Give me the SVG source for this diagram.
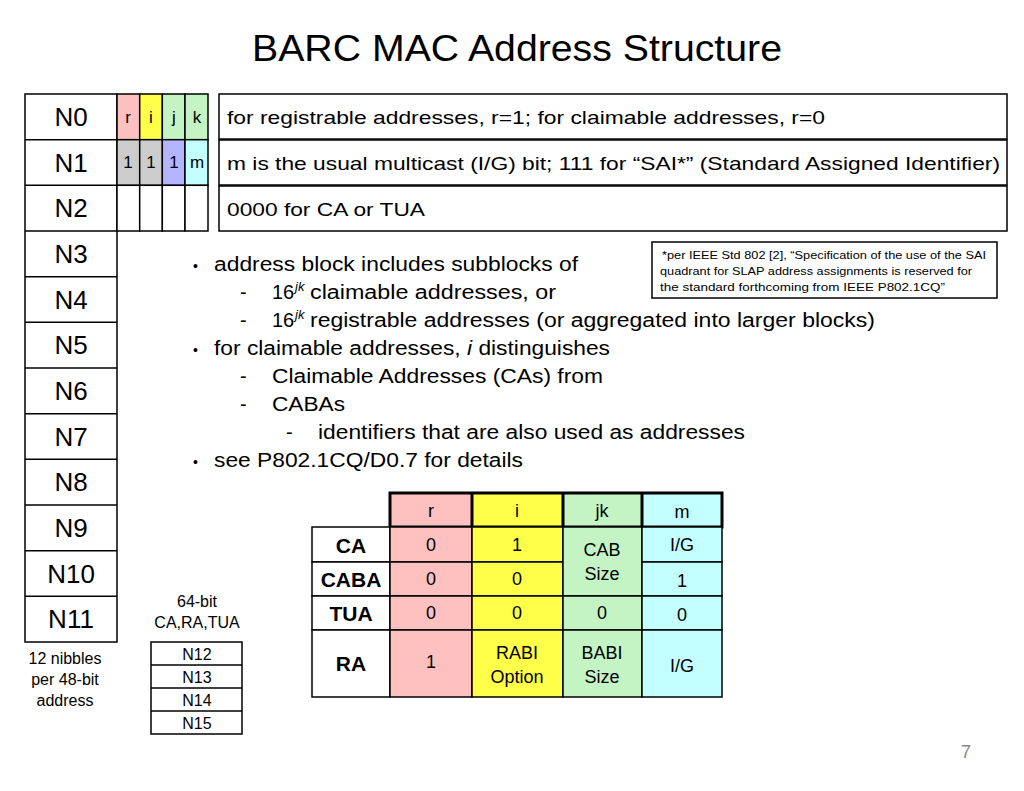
<svg xmlns="http://www.w3.org/2000/svg" width="1024" height="791" viewBox="0 0 1024 791">
<style>
text{font-family:"Liberation Sans",Arial,sans-serif;fill:#000}
.b{fill:#fff;stroke:#000;stroke-width:1.5}
.n{font-size:26px;text-anchor:middle}
.c{font-size:17px;text-anchor:middle}
.t{font-size:20px}
.h{font-size:21px;font-weight:bold;text-anchor:middle}
.s{stroke:#000;stroke-width:1.5}
.pk{fill:#FFC0C0}.ye{fill:#FFFF4A}.gr{fill:#C4F4C4}.cy{fill:#C4FFFF}.gy{fill:#CCCCCC}.lv{fill:#B4B4FF}
</style>
<rect width="1024" height="791" fill="#fff"/>
<text x="252" y="61" font-size="36" textLength="530" lengthAdjust="spacingAndGlyphs">BARC MAC Address Structure</text>
<g id="nibbles">
<rect class="b" x="25" y="94" width="92" height="548"/>
<g class="s">
<line x1="25" y1="139.7" x2="117" y2="139.7"/><line x1="25" y1="185.3" x2="117" y2="185.3"/><line x1="25" y1="231" x2="117" y2="231"/><line x1="25" y1="276.7" x2="117" y2="276.7"/><line x1="25" y1="322.3" x2="117" y2="322.3"/><line x1="25" y1="368" x2="117" y2="368"/><line x1="25" y1="413.7" x2="117" y2="413.7"/><line x1="25" y1="459.3" x2="117" y2="459.3"/><line x1="25" y1="505" x2="117" y2="505"/><line x1="25" y1="550.7" x2="117" y2="550.7"/><line x1="25" y1="596.3" x2="117" y2="596.3"/>
</g>
<text class="n" x="71" y="126">N0</text><text class="n" x="71" y="172">N1</text><text class="n" x="71" y="217">N2</text><text class="n" x="71" y="263">N3</text><text class="n" x="71" y="309">N4</text><text class="n" x="71" y="354">N5</text><text class="n" x="71" y="400">N6</text><text class="n" x="71" y="446">N7</text><text class="n" x="71" y="491">N8</text><text class="n" x="71" y="537">N9</text><text class="n" x="71" y="583">N10</text><text class="n" x="71" y="628">N11</text>
<text x="65" y="664" font-size="16" text-anchor="middle">12 nibbles</text>
<text x="65" y="685" font-size="16" text-anchor="middle">per 48-bit</text>
<text x="65" y="706" font-size="16" text-anchor="middle">address</text>
</g>
<g id="bits">
<rect class="pk s" x="117" y="94" width="22.7" height="45.7"/><rect class="ye s" x="139.7" y="94" width="22.7" height="45.7"/><rect class="gr s" x="162.3" y="94" width="22.7" height="45.7"/><rect class="gr s" x="185" y="94" width="23" height="45.7"/>
<rect class="gy s" x="117" y="139.7" width="22.7" height="45.7"/><rect class="gy s" x="139.7" y="139.7" width="22.7" height="45.7"/><rect class="lv s" x="162.3" y="139.7" width="22.7" height="45.7"/><rect class="cy s" x="185" y="139.7" width="23" height="45.7"/>
<rect class="b" x="117" y="185.3" width="22.7" height="45.7"/><rect class="b" x="139.7" y="185.3" width="22.7" height="45.7"/><rect class="b" x="162.3" y="185.3" width="22.7" height="45.7"/><rect class="b" x="185" y="185.3" width="23" height="45.7"/>
<text class="c" x="128" y="123">r</text><text class="c" x="151" y="123">i</text><text class="c" x="174" y="123">j</text><text class="c" x="197" y="123">k</text>
<text class="c" x="128" y="168">1</text><text class="c" x="151" y="168">1</text><text class="c" x="174" y="168">1</text><text class="c" x="197" y="168">m</text>
</g>
<g id="desc">
<rect class="b" x="219" y="94" width="788" height="45"/>
<rect class="b" x="219" y="140" width="788" height="45"/>
<rect class="b" x="219" y="186" width="788" height="45"/>
<text x="227" y="124" font-size="19" textLength="598" lengthAdjust="spacingAndGlyphs">for registrable addresses, r=1; for claimable addresses, r=0</text>
<text x="227" y="170" font-size="19" textLength="773" lengthAdjust="spacingAndGlyphs">m is the usual multicast (I/G) bit; 111 for “SAI*” (Standard Assigned Identifier)</text>
<text x="227" y="216" font-size="19" textLength="198" lengthAdjust="spacingAndGlyphs">0000 for CA or TUA</text>
</g>
<g id="note">
<rect class="b" x="652" y="242" width="345" height="56"/>
<text x="662" y="259" font-size="11.5" textLength="324" lengthAdjust="spacingAndGlyphs">*per IEEE Std 802 [2], “Specification of the use of the SAI</text>
<text x="660" y="275" font-size="11.5" textLength="312" lengthAdjust="spacingAndGlyphs">quadrant for SLAP address assignments is reserved for</text>
<text x="660" y="291" font-size="11.5" textLength="285" lengthAdjust="spacingAndGlyphs">the standard forthcoming from IEEE P802.1CQ”</text>
</g>
<g id="bullets">
<text x="193" y="271" font-size="14">•</text><text x="214" y="271" class="t" textLength="364" lengthAdjust="spacingAndGlyphs">address block includes subblocks of</text>
<text x="240" y="299" class="t">-</text><text x="272" y="299" class="t">16</text><text x="295" y="291" font-size="13" font-style="italic">jk</text><text x="310" y="299" class="t" textLength="246" lengthAdjust="spacingAndGlyphs">claimable addresses, or</text>
<text x="240" y="327" class="t">-</text><text x="272" y="327" class="t">16</text><text x="295" y="319" font-size="13" font-style="italic">jk</text><text x="310" y="327" class="t" textLength="565" lengthAdjust="spacingAndGlyphs">registrable addresses (or aggregated into larger blocks)</text>
<text x="193" y="355" font-size="14">•</text><text x="214" y="355" class="t" textLength="396" lengthAdjust="spacingAndGlyphs">for claimable addresses, <tspan font-style="italic">i</tspan> distinguishes</text>
<text x="240" y="383" class="t">-</text><text x="272" y="383" class="t" textLength="331" lengthAdjust="spacingAndGlyphs">Claimable Addresses (CAs) from</text>
<text x="240" y="411" class="t">-</text><text x="272" y="411" class="t" textLength="73" lengthAdjust="spacingAndGlyphs">CABAs</text>
<text x="286" y="439" class="t">-</text><text x="318" y="439" class="t" textLength="427" lengthAdjust="spacingAndGlyphs">identifiers that are also used as addresses</text>
<text x="193" y="467" font-size="14">•</text><text x="214" y="467" class="t" textLength="309" lengthAdjust="spacingAndGlyphs">see P802.1CQ/D0.7 for details</text>
</g>
<g id="table">
<rect class="pk s" x="390" y="493" width="82" height="34"/><rect class="ye s" x="472" y="493" width="91" height="34"/><rect class="gr s" x="563" y="493" width="79" height="34"/><rect class="cy s" x="642" y="493" width="80" height="34"/>
<rect fill="none" stroke="#000" stroke-width="3" x="390" y="493" width="332" height="34"/>
<g stroke="#000" stroke-width="3"><line x1="472" y1="493" x2="472" y2="527"/><line x1="563" y1="493" x2="563" y2="527"/><line x1="642" y1="493" x2="642" y2="527"/></g>
<rect class="b" x="312" y="527" width="78" height="35" stroke-width="3"/><rect class="b" x="312" y="562" width="78" height="34" stroke-width="3"/><rect class="b" x="312" y="596" width="78" height="34" stroke-width="3"/><rect class="b" x="312" y="630" width="78" height="67" stroke-width="3"/>
<rect class="pk s" x="390" y="527" width="82" height="35"/><rect class="pk s" x="390" y="562" width="82" height="34"/><rect class="pk s" x="390" y="596" width="82" height="34"/><rect class="pk s" x="390" y="630" width="82" height="67"/>
<rect class="ye s" x="472" y="527" width="91" height="35"/><rect class="ye s" x="472" y="562" width="91" height="34"/><rect class="ye s" x="472" y="596" width="91" height="34"/><rect class="ye s" x="472" y="630" width="91" height="67"/>
<rect class="gr s" x="563" y="527" width="79" height="69"/><rect class="gr s" x="563" y="596" width="79" height="34"/><rect class="gr s" x="563" y="630" width="79" height="67"/>
<rect class="cy s" x="642" y="527" width="80" height="35"/><rect class="cy s" x="642" y="562" width="80" height="34"/><rect class="cy s" x="642" y="596" width="80" height="34"/><rect class="cy s" x="642" y="630" width="80" height="67"/>
<g font-size="18" text-anchor="middle">
<text x="431" y="517">r</text><text x="517" y="517">i</text><text x="602" y="517">jk</text><text x="682" y="518">m</text>
<text x="431" y="551">0</text><text x="517" y="551">1</text><text x="602" y="556">CAB</text><text x="602" y="580">Size</text><text x="682" y="551">I/G</text>
<text x="431" y="585">0</text><text x="517" y="585">0</text><text x="682" y="587">1</text>
<text x="431" y="619">0</text><text x="517" y="619">0</text><text x="602" y="619">0</text><text x="682" y="621">0</text>
<text x="431" y="668">1</text><text x="517" y="659">RABI</text><text x="517" y="683">Option</text><text x="602" y="659">BABI</text><text x="602" y="683">Size</text><text x="682" y="672">I/G</text>
</g>
<text class="h" x="351" y="553">CA</text><text class="h" x="351" y="587">CABA</text><text class="h" x="351" y="621">TUA</text><text class="h" x="351" y="671">RA</text>
</g>
<g id="ext">
<text x="197" y="607" font-size="16" text-anchor="middle">64-bit</text>
<text x="197" y="628" font-size="16" text-anchor="middle">CA,RA,TUA</text>
<rect class="b" x="151" y="642" width="91" height="92"/>
<g class="s"><line x1="151" y1="665" x2="242" y2="665"/><line x1="151" y1="688" x2="242" y2="688"/><line x1="151" y1="711" x2="242" y2="711"/></g>
<g font-size="16" text-anchor="middle"><text x="197" y="660">N12</text><text x="197" y="683">N13</text><text x="197" y="706">N14</text><text x="197" y="729">N15</text></g>
</g>
<g id="connectors"/>
<text x="966" y="758" font-size="18" style="fill:#888" text-anchor="middle">7</text>
</svg>
